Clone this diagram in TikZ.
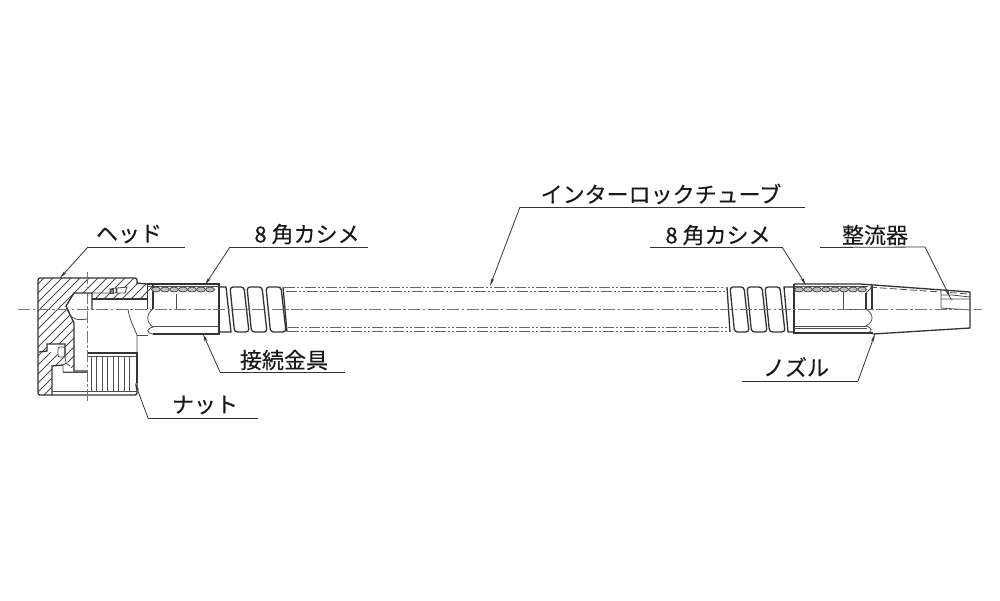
\documentclass[tikz,border=0pt]{standalone}
\usepackage{fontspec}
\newfontfamily\cjk[FakeBold=0.25]{Noto Sans CJK JP}
\usetikzlibrary{arrows.meta}
\tikzset{
 lbl/.style={font=\cjk\fontsize{22}{24}\selectfont,inner sep=0pt,text=black!90},
 lead/.style={line width=0.8pt,black!80,-{Stealth[length=8pt,width=3pt]}},
 uline/.style={line width=0.8pt,black!80},
 ol/.style={line width=1.3pt,black!80},
 fine/.style={line width=0.8pt,black!70},
 phantom/.style={line width=0.9pt,black!60,dash pattern=on 11pt off 2pt on 2pt off 2pt on 2pt off 2pt},
 cl/.style={line width=0.8pt,black!55,dash pattern=on 12pt off 2.5pt on 2.5pt off 2.5pt},
}
\begin{document}
\begin{tikzpicture}[x=1pt,y=-1pt]
\useasboundingbox (0,0) rectangle (1000,600);
\fill[white] (0,0) rectangle (1000,600);
% head hatching
\begin{scope}
\clip (38,278) -- (135,278) -- (137,283) -- (147,284) -- (147,299) -- (92,299) -- (92,293) -- (74,293) -- (66,306) -- (74,323) -- (74,371) -- (68,364) -- (66,357) -- (65,344) -- (47,344) -- (47,351) -- (38,352) -- (39,352) -- (47,351) -- (47,344) -- (65,344) -- (65,357) -- (66,363) -- (63,365) -- (52,366) -- (52,395) -- (38,395) -- cycle;
\foreach \s in {322,331,...,500}{\draw[fine] (\s-400,400) -- (\s-270,270);}
\end{scope}
\draw[ol,rounded corners=2pt] (137,284) -- (137,278) -- (38,278) -- (38,395) -- (137,395) -- (137,383);
\draw[ol] (137,283) -- (147,284) (92,309) -- (92,293) -- (74,293) -- (66,306) -- (74,323) -- (74,371) -- (87,371);
\draw[ol] (92,299) -- (147,299);
\draw[ol] (147.5,284) -- (147.5,309);
\draw[fine] (66,306) .. controls (70,322) and (80,320) .. (87,319);
% lower-left slot and seal
\fill[white] (39,352) -- (47,351) -- (47,344) -- (65,344) -- (65,357) -- (52,352) -- cycle;
\draw[ol] (39,352) -- (47,351) -- (47,344) -- (65,344) -- (65,357);
\draw[fine,rounded corners=2pt] (58,347) rectangle (65,357);
\draw[fine] (65,357) -- (66,363) -- (63,365) -- (63,372) -- (74,372) (66,363) -- (70,366);
\draw[ol] (52,395) -- (52,366) -- (63,365);
\draw[fine] (63,372) -- (87,372) (52,391) -- (137,391);
% upper small details
\fill[white] (108,288) rectangle (127,293);
\draw[fine] (92,293) -- (110,293) (110,289) -- (116,288) -- (116,293) -- (110,293) -- cycle
 (117,288) -- (127,287) -- (125,293) -- (117,293) -- cycle;
\draw[fine,fill=black!50] (110,289) rectangle (113,293);
% nut
\draw[ol] (87,353) -- (137,353) -- (137,383);
\draw[fine] (87,356) -- (137,356);
\foreach \x in {91,96.5,...,134}{\draw[fine] (\x,356) -- (\x,391);}
% curve right of head
\draw[fine] (128,309) .. controls (129,318) and (134,328) .. (137,335) -- (137,353);
\draw[fine] (137,335) -- (148,335);
% fitting left
\draw[ol] (147,284) -- (219,284) -- (219,334) -- (153,334);
\draw[fine] (147,286) -- (219,286) (153,326.5) -- (219,326.5) (176,294) -- (176,309);
\draw[fine] (147,292) -- (153,286);
\draw[ol] (153,285) -- (153,309);
\draw[fine] (153,309) .. controls (146,314) and (146,322) .. (153,327) .. controls (146,329) and (146,333) .. (153,334);
\foreach \x in {156,165,...,217}{\draw[fine,fill=black!25] (\x,289.5) ellipse (4.5 and 2.4);}
% coils left
\foreach \a/\b in {230/244,247/262,266/281}{
 \draw[ol,rounded corners=3pt] (\a,287) -- (\a+4.5,332) -- (\b+5,332) -- (\b,287) -- cycle;}
\draw[ol] (219,287) -- (226,287) -- (231,332) -- (219,332);
% tube
\draw[ol] (283,287) -- (287,332);
\draw[phantom] (284,287) -- (724,287) (286,291) -- (726,291) (288,327) -- (727,327) (288,331) -- (730,331);
% coils right
\foreach \a/\b in {730/744,747/762,765/780}{
 \draw[ol,rounded corners=3pt] (\a,287) -- (\a+4.5,332) -- (\b+5,332) -- (\b,287) -- cycle;}
\draw[ol] (794,287) -- (784,287) -- (788,332) -- (794,332);
\draw[ol] (727,287) -- (730,332);
% fitting right
\draw[ol] (794,284) -- (794,333) -- (873,333);
\draw[fine] (794,326) -- (867,326) (794,328) -- (867,328) (794,286) -- (868,286);
\draw[ol] (872,285) -- (872,309);
\draw[ol] (866,293) -- (866,309);
\draw[fine] (866,293) -- (872,287);
\draw[fine] (843,292) -- (843,309) -- (872,309);
\draw[fine] (866,309) .. controls (874,314) and (874,322) .. (866,326) .. controls (873,328) and (873,332) .. (866,333);
\foreach \x in {799,808,...,862}{\draw[fine,fill=black!25] (\x,289.5) ellipse (4.5 and 2.4);}
\draw[ol] (794,284) -- (860,284) -- (970,292) -- (970,328) -- (873,334);
\draw[fine,dash pattern=on 7pt off 3pt] (860,286.5) -- (941,292) (950,292.5) -- (968,294);
\draw[fine] (941,290) -- (941,308) -- (970,310) (941,299) -- (970,299) (941,295) -- (952,295) -- (970,297) (949,296) -- (952,300);
% centre lines
\draw[cl] (18,309.5) -- (982,309.5);
\draw[cl] (87,272) -- (87,402);
% leaders
\coordinate (a1) at (60,278); \coordinate (a2) at (205,285); \coordinate (a3) at (490,286);
\coordinate (a4) at (806,285); \coordinate (a5) at (950,297); \coordinate (a6) at (203,334);
\coordinate (a7) at (135,383); \coordinate (a8) at (875,334);
\coordinate (b1) at (88,247); \coordinate (b2) at (230,247); \coordinate (b3) at (520,207);
\coordinate (b4) at (782,247); \coordinate (b5) at (925,247); \coordinate (b6) at (220,372);
\coordinate (b7) at (148,418); \coordinate (b8) at (858,381);
\node[lbl] (t1) at (129,234) {ヘッド};
\node[lbl] (t2) at (307,234) {8 角カシメ};
\node[lbl] (t3) at (661,194) {インターロックチューブ};
\node[lbl] (t4) at (718,235) {8 角カシメ};
\node[lbl] (t5) at (875,235) {整流器};
\node[lbl] (t6) at (284,360) {接続金具};
\node[lbl] (t7) at (205,405) {ナット};
\node[lbl] (t8) at (796,367) {ノズル};
\draw[uline] (185,247) -- (b1);
\draw[lead] (b1) -- (a1);
\draw[uline] (368,247) -- (b2);
\draw[lead] (b2) -- (a2);
\draw[uline] (805,207) -- (b3);
\draw[lead] (b3) -- (a3);
\draw[uline] (650,247) -- (b4);
\draw[lead] (b4) -- (a4);
\draw[uline] (820,247.5) -- (b5);
\draw[lead] (b5) -- (a5);
\draw[uline] (345,372) -- (b6);
\draw[lead] (b6) -- (a6);
\draw[uline] (258,418) -- (b7);
\draw[lead] (b7) -- (a7);
\draw[uline] (742,381) -- (b8);
\draw[lead] (b8) -- (a8);
\end{tikzpicture}
\end{document}
